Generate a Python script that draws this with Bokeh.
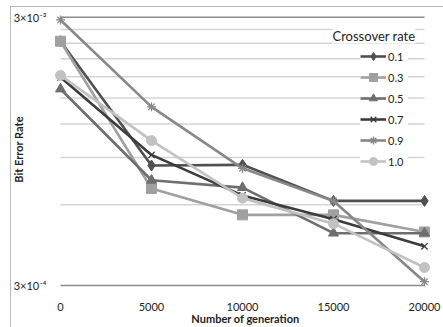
from bokeh.plotting import figure
from bokeh.models import FixedTicker, Label, Legend, LegendItem, Range1d
from bokeh.embed import file_html
from bokeh.resources import INLINE

# ---- data ----
generations = [0, 5000, 10000, 15000, 20000]
rate_labels = ["0.1", "0.3", "0.5", "0.7", "0.9", "1.0"]
ber_01 = [2.44e-3, 8.4e-4, 8.45e-4, 6.2e-4, 6.2e-4]
ber_03 = [2.44e-3, 6.9e-4, 5.5e-4, 5.5e-4, 4.75e-4]
ber_05 = [1.62e-3, 7.4e-4, 6.95e-4, 4.7e-4, 4.7e-4]
ber_07 = [1.79e-3, 9.2e-4, 6.5e-4, 5.3e-4, 4.2e-4]
ber_09 = [2.93e-3, 1.39e-3, 8.2e-4, 6.2e-4, 3.1e-4]
ber_10 = [1.82e-3, 1.04e-3, 6.35e-4, 5.1e-4, 3.5e-4]
y_tick_values = [0.0003, 0.003]
y_tick_labels = ["3×10⁻⁴", "3×10⁻³"]
grid_values = [0.0003, 0.0006, 0.0009, 0.0012, 0.0015, 0.0018, 0.0021, 0.0024, 0.0027, 0.003]
x_tick_labels = ["0", "5000", "10000", "15000", "20000"]

series = [ber_01, ber_03, ber_05, ber_07, ber_09, ber_10]

# ---- styles ----
colors = ["#505050", "#a0a0a0", "#6e6e6e", "#3c3c3c", "#888888", "#c2c2c2"]
markers = ["diamond", "square", "triangle", "x", "asterisk", "circle"]
msizes = [11, 10, 10, 9, 9, 10]
FONT = "Lato"

p = figure(width=443, height=327, y_axis_type="log",
           x_range=Range1d(-330, 20659), y_range=Range1d(2.949e-4, 3.150e-3),
           output_backend="svg", toolbar_location=None,
           min_border_left=54, min_border_right=7, min_border_top=11, min_border_bottom=40)
p.outline_line_color = None
p.xgrid.visible = False
p.ygrid.visible = False
p.border_fill_color = None
p.styles = {
    "background": "linear-gradient(#b8b8b8, #b8b8b8) 10px 6px / 1px 100% no-repeat, "
                  "linear-gradient(#b8b8b8, #b8b8b8) 10px 6px / 100% 1px no-repeat, #ffffff"
}

# gridlines limited to the data span
xs0 = [min(generations)] * len(grid_values)
xs1 = [max(generations)] * len(grid_values)
gcols = ["#d4d4d4"] * len(grid_values)
gcols[0] = "#8c8c8c"
gcols[-1] = "#8c8c8c"
p.segment(x0=xs0, y0=grid_values, x1=xs1, y1=grid_values, line_color=gcols, line_width=1.4)

# axes
p.yaxis.ticker = FixedTicker(ticks=y_tick_values, minor_ticks=[])
p.yaxis.major_label_overrides = {v: s for v, s in zip(y_tick_values, y_tick_labels)}
p.yaxis.axis_line_color = None
p.yaxis.major_tick_line_color = None
p.yaxis.minor_tick_line_color = None
p.yaxis.major_label_standoff = 2
p.yaxis.major_label_text_font = FONT
p.yaxis.major_label_text_font_size = "11px"
p.yaxis.major_label_text_color = "#222222"
p.yaxis.axis_label = "Bit Error Rate"
p.yaxis.axis_label_standoff = -14
p.yaxis.axis_label_text_font = FONT
p.yaxis.axis_label_text_font_style = "bold"
p.yaxis.axis_label_text_font_size = "11px"
p.yaxis.axis_label_text_color = "#222222"

p.xaxis.ticker = FixedTicker(ticks=generations, minor_ticks=[])
p.xaxis.major_label_overrides = {g: s for g, s in zip(generations, x_tick_labels)}
p.xaxis.axis_line_color = None
p.xaxis.major_tick_line_color = None
p.xaxis.minor_tick_line_color = None
p.xaxis.major_label_standoff = 9
p.xaxis.major_label_text_font = FONT
p.xaxis.major_label_text_font_size = "11px"
p.xaxis.major_label_text_color = "#222222"
p.xaxis.axis_label = "Number of generation"
p.xaxis.axis_label_standoff = -2
p.xaxis.axis_label_text_font = FONT
p.xaxis.axis_label_text_font_style = "bold"
p.xaxis.axis_label_text_font_size = "11px"
p.xaxis.axis_label_text_color = "#222222"

items = []
for lab, ys, c, m, s in zip(rate_labels, series, colors, markers, msizes):
    ln = p.line(generations, ys, line_color=c, line_width=2.6)
    lw = 1.3 if m in ("x", "asterisk") else 1
    sc = p.scatter(generations, ys, marker=m, size=s, fill_color=c, line_color=c, line_width=lw)
    items.append(LegendItem(label=lab, renderers=[ln, sc]))

legend = Legend(items=items, location=(306, 116), padding=0, margin=0, spacing=1,
                glyph_width=26, glyph_height=20, label_height=20, label_standoff=2,
                border_line_color=None, background_fill_color="white", background_fill_alpha=1,
                label_text_font=FONT, label_text_font_size="11px", label_text_color="#222222")
p.add_layout(legend, "center")

title = Label(x=278, y=252, x_units="screen", y_units="screen", text="Crossover rate",
              text_font=FONT, text_font_size="13px", text_color="#222222",
              text_baseline="middle", text_align="left",
              background_fill_color="white", background_fill_alpha=1)
p.add_layout(title)

open("out.html", "w").write(file_html(p, INLINE))
